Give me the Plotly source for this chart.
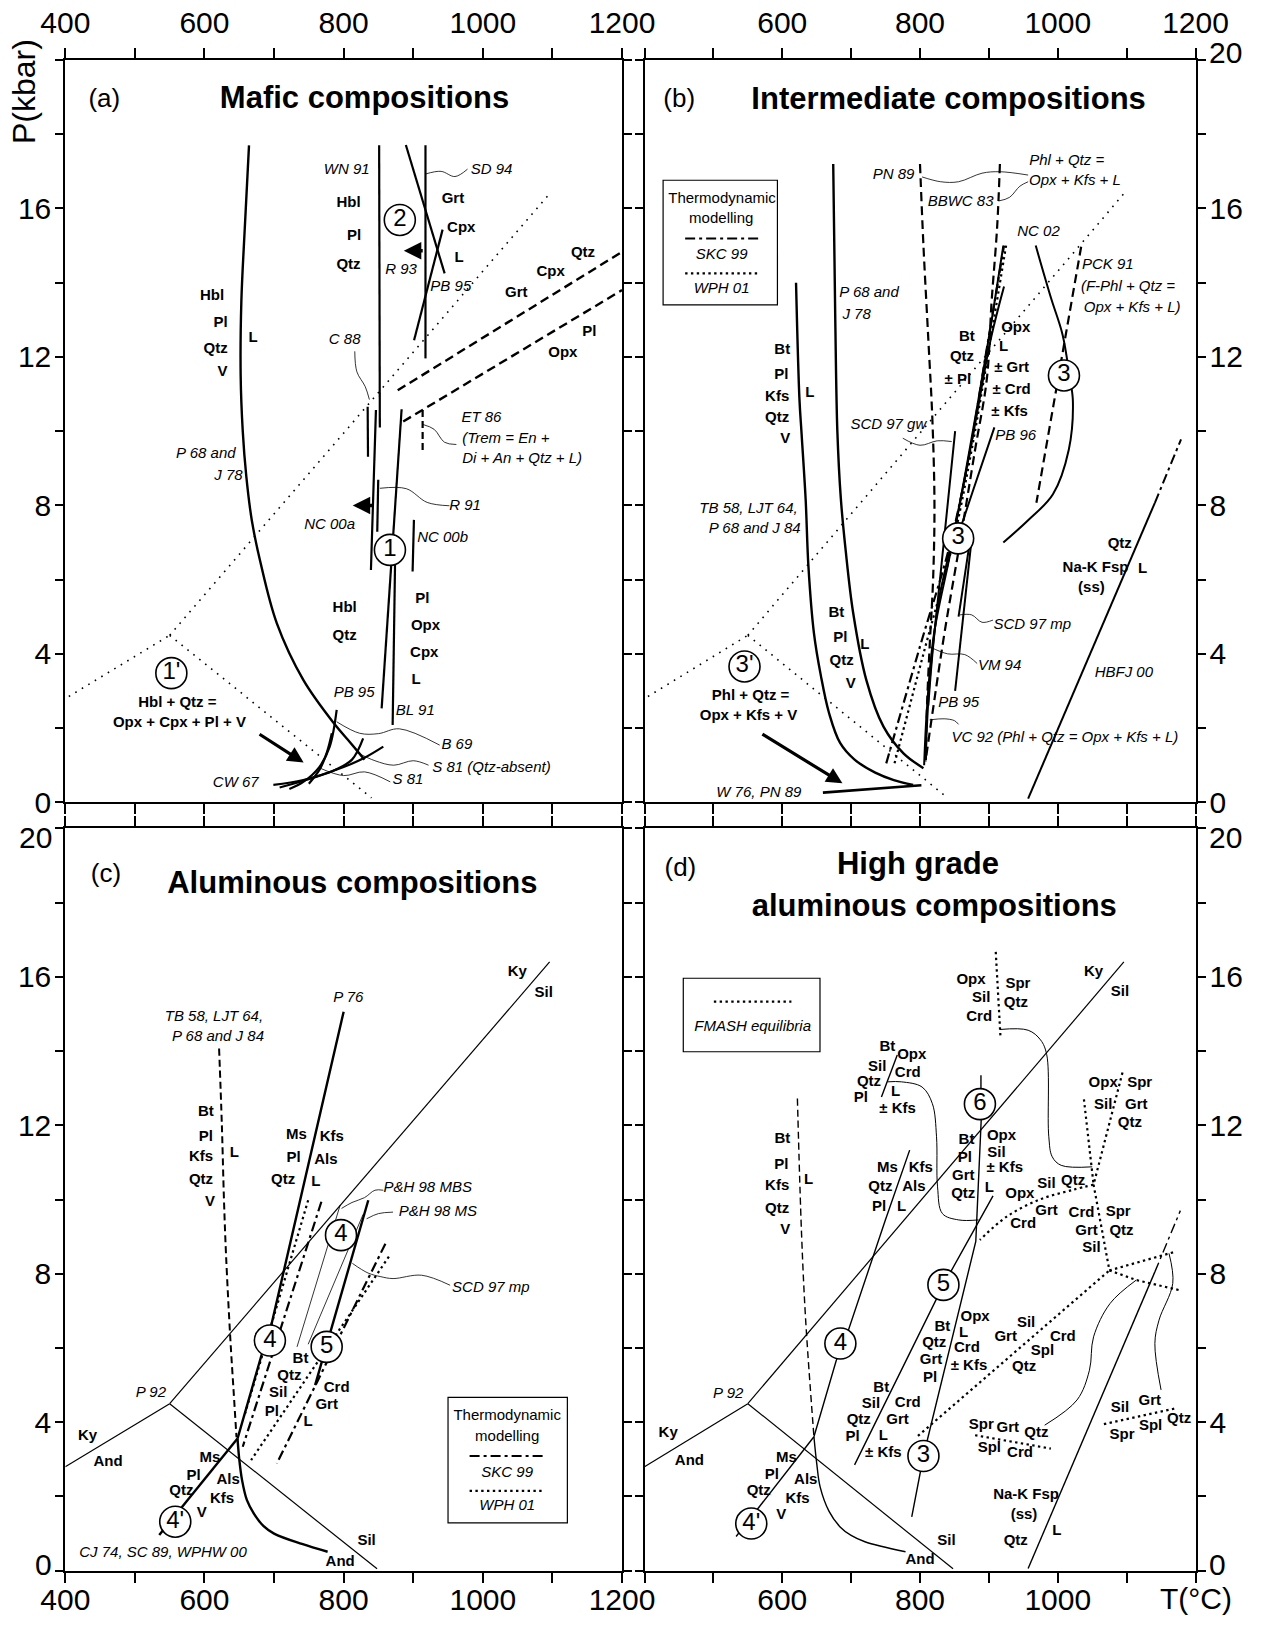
import plotly.graph_objects as go

# ---------------- axis ticks ----------------
T_TICKS = [400, 500, 600, 700, 800, 900, 1000, 1100, 1200]
P_TICKS = [0, 2, 4, 6, 8, 10, 12, 14, 16, 18, 20]
TOP_LABELS_A = ["400", "", "600", "", "800", "", "1000", "", "1200"]
TOP_LABELS_B = ["", "", "600", "", "800", "", "1000", "", "1200"]
BOT_LABELS_C = ["400", "", "600", "", "800", "", "1000", "", "1200"]
BOT_LABELS_D = ["", "", "600", "", "800", "", "1000", "", ""]
TOP_ROW_P_LABELS = ["0", "", "4", "", "8", "", "12", "", "16", "", ""]
BOT_ROW_P_LABELS = ["", "", "4", "", "8", "", "12", "", "16", "", ""]
TOP_P_LABEL = "20"
ZERO_P_LABEL = "0"
T_AXIS_TITLE = "T(°C)"
P_AXIS_TITLE = "P(kbar)"

# ---------------- aluminosilicate triple point lines (T degC, P kbar) ----------------
ALS_KY_AND = [(400, 2.8), (550, 4.5)]
ALS_AND_SIL = [(550, 4.5), (848, 0.05)]
ALS_KY_SIL = [(550, 4.5), (1096, 16.4)]
DOT_KY_AND = [(405, 2.85), (550, 4.5)]
DOT_AND_SIL = [(550, 4.5), (840, 0.12)]
DOT_KY_SIL = [(550, 4.5), (1096, 16.4)]

# ---------------- panel (a) mafic ----------------
A_P68 = [(664, 17.7), (658, 15.5), (653, 13.5), (652, 11.5), (655, 10.0), (660, 8.8), (668, 7.6),
         (680, 6.5), (704, 4.82), (742, 3.3), (786, 2.13), (810, 1.6), (830, 1.15)]
A_WN91 = [(851, 17.7), (852, 10.1)]
A_R93 = [(917.6, 17.7), (917.6, 11.96)]
A_SD94 = [(889.4, 17.71), (945.1, 14.25)]
A_PB95_HI = [(942.2, 15.43), (901.2, 12.45)]
A_DASH1 = [(877.7, 11.1), (1200, 14.83)]
A_DASH2 = [(885.6, 10.26), (1200, 13.8)]
A_C88 = [(834.5, 10.66), (835, 9.31)]
A_NC00A = [(846.4, 10.57), (839.2, 6.26)]
A_R91 = [(849.7, 8.69), (848.3, 7.29)]
A_PB95_LO = [(883.3, 10.59), (854.6, 2.53)]
A_BL91 = [(874, 6.6), (870.4, 2.08)]
A_NC00B = [(901, 7.61), (899.1, 6.22)]
A_ET86 = [(913.5, 10.57), (913.5, 9.4)]
A_LOW1 = [(699, 0.47), (742, 0.6), (800, 0.95), (830, 1.2), (857, 1.5)]
A_LOW2 = [(708, 0.4), (742, 0.58), (785, 0.85), (812, 1.15), (828, 1.72)]
A_LOW3 = [(722, 0.36), (742, 0.55), (765, 0.95), (780, 1.5), (790, 2.49)]
A_LOW4 = [(750, 0.5), (766, 0.9), (776, 1.35), (783, 1.86)]
A_LEAD_SD94 = [(918, 16.93), (940, 17.0), (960, 16.86), (978, 17.06)]
A_LEAD_C88 = [(816, 12.15), (819, 11.6), (831, 11.2), (837, 10.85)]
A_LEAD_ET86 = [(914, 10.18), (930, 10.05), (945, 9.7), (962, 9.64)]
A_LEAD_R91 = [(852, 8.46), (890, 8.45), (920, 8.08), (952, 7.99)]
A_LEAD_B69 = [(790, 2.17), (823, 1.86), (850, 1.85), (880, 1.98), (938, 1.54)]
A_LEAD_S81Q = [(818, 1.35), (845, 1.12), (872, 1.0), (900, 1.12), (922, 1.0)]
A_LEAD_S81 = [(766, 0.92), (800, 0.72), (830, 0.82), (867, 0.55)]
A_ARROWS = [((915.8, 14.86), (886.5, 14.86), 3.5), ((843, 8.0), (813, 8.0), 3.5),
            ((677, 1.86), (742.5, 1.07), 3.2)]
A_BOLD = [("Hbl", 807, 16.15), ("Pl", 815, 15.24), ("Qtz", 807, 14.47),
          ("Grt", 957, 16.24), ("Cpx", 969, 15.46), ("L", 966, 14.65),
          ("Qtz", 1144, 14.8), ("Cpx", 1097.5, 14.29), ("Grt", 1048, 13.71), ("Pl", 1153, 12.67),
          ("Opx", 1115, 12.09),
          ("Hbl", 611, 13.64), ("Pl", 623, 12.92), ("Qtz", 616, 12.2), ("V", 626, 11.6), ("L", 670, 12.49),
          ("Hbl", 801.5, 5.23), ("Qtz", 801.5, 4.47),
          ("Pl", 913, 5.48), ("Opx", 917.6, 4.74), ("Cpx", 915.8, 4.02), ("L", 904, 3.3),
          ("Hbl + Qtz =", 561, 2.67), ("Opx + Cpx + Pl + V", 564, 2.13)]
A_ITAL = [("WN 91", 804.5, 17.03), ("SD 94", 1012.5, 17.03), ("R 93", 882.4, 14.34), ("PB 95", 954, 13.87),
          ("C 88", 801.5, 12.45), ("P 68 and", 602, 9.37), ("J 78", 634.5, 8.79), ("ET 86", 998, 10.36),
          ("(Trem = En +", 1033, 9.79), ("Di + An + Qtz + L)", 1056.5, 9.24), ("R 91", 974.4, 7.98),
          ("NC 00a", 779.8, 7.46), ("NC 00b", 942.2, 7.12), ("PB 95", 815, 2.94), ("BL 91", 903, 2.45),
          ("CW 67", 645, 0.51), ("B 69", 962.7, 1.55), ("S 81 (Qtz-absent)", 1012.5, 0.92), ("S 81", 892.4, 0.6)]
A_CIRCLES = [("2", 880.7, 15.69), ("1", 866.5, 6.8), ("1'", 552.4, 3.48)]

# ---------------- panel (b) intermediate ----------------
B_P68 = [(674, 17.2), (677, 13.0), (680, 10.0), (685, 8.2), (692, 6.8), (703, 5.1), (722, 3.3),
         (747, 2.04), (776, 1.32), (805, 0.92)]
B_TB58 = [(620, 14.0), (625, 10.85), (628, 9.95), (634, 8.15), (638, 6.36), (646, 4.56), (656, 3.42),
          (668, 2.4), (684, 1.6), (705, 1.15), (735, 0.8), (762, 0.6), (790, 0.47)]
B_W76 = [(659, 0.26), (802, 0.46)]
B_PN89 = [(800, 17.2), (805, 15.0), (812, 12.5), (818, 10.3), (821, 8.0), (819, 6.0), (814, 4.2),
          (810, 2.5), (808.5, 1.1)]
B_BBWC83 = [(916, 17.2), (912, 15.5), (904, 13.5), (897, 11.4), (880, 9.5), (858, 7.0), (835, 4.5),
            (808, 1.1)]
B_SKC99 = [(751, 1.05), (800, 4.2), (843, 6.9), (870, 9.2), (895, 12.0), (922, 15.0)]
B_WPH01 = [(763, 1.05), (805, 4.0), (848, 7.0), (875, 9.5), (900, 12.2), (925, 15.0)]
B_VC92 = [(806, 1.0), (810, 2.5), (820, 4.5), (845, 6.8), (872, 9.5), (898, 12.3), (921, 15.0)]
B_VM94 = [(808, 1.2), (815, 3.5), (828, 5.5), (852, 7.5), (880, 10.2), (903, 12.5), (922, 13.9)]
B_PB96 = [(908, 10.1), (877, 8.4), (850, 6.9)]
B_SCD97GW = [(851, 10.0), (840, 8.0), (829, 6.0), (818, 4.0), (812, 2.6)]
B_SCD97MP = [(873, 7.1), (856, 5.0)]
B_PB95 = [(875, 7.1), (851, 3.0)]
B_NC02 = [(968, 15.0), (990, 13.6), (1007, 12.6), (1017, 11.5), (1022, 10.8), (1016, 9.5), (993, 8.3),
          (957, 7.6), (921, 7.0)]
B_PCK91 = [(1034, 14.97), (969, 8.07)]
B_HBFJ = [(957, 0.1), (1141, 8.07)]
B_HBFJ_EXT = [(1141, 8.07), (1179, 9.78)]
B_LEAD_PN89 = [(803, 16.85), (830, 16.72), (856, 16.72), (890, 16.95), (916, 16.99), (957, 16.9)]
B_LEAD_BBWC = [(914, 16.2), (930, 16.3), (945, 16.6), (957, 16.72)]
B_LEAD_GW = [(775, 9.81), (800, 9.62), (825, 9.74), (846, 9.72)]
B_LEAD_MP = [(858, 5.05), (875, 5.05), (890, 4.85), (906, 4.91)]
B_LEAD_VM = [(814, 4.19), (840, 4.0), (865, 3.98), (883, 3.74)]
B_LEAD_VC = [(814, 2.22), (835, 2.25), (850, 2.2), (856, 2.1)]
B_ARROWS = [((569, 1.86), (687.4, 0.51), 3.2)]
B_LEG_BOX = [(427, 13.4), (593, 16.76)]
B_LEG_DASHDOT = [(459, 15.19), (566, 15.19)]
B_LEG_DOT = [(459, 14.25), (566, 14.25)]
B_BOLD = [("Bt", 600, 12.18), ("Pl", 598.5, 11.51), ("Kfs", 592.6, 10.92), ("Qtz", 592.6, 10.36),
          ("V", 604.4, 9.78), ("L", 640, 11.01),
          ("Bt", 678.5, 5.1), ("Pl", 684.4, 4.43), ("L", 720, 4.24), ("Qtz", 686.2, 3.8), ("V", 699.3, 3.17),
          ("Bt", 868, 12.54), ("Qtz", 861, 12.0), ("± Pl", 855, 11.37),
          ("Opx", 939, 12.76), ("L", 921.5, 12.27), ("± Grt", 933, 11.69), ("± Crd", 933, 11.1),
          ("± Kfs", 930, 10.52),
          ("Qtz", 1090, 6.94), ("Na-K Fsp", 1054.8, 6.31), ("(ss)", 1048.9, 5.77), ("L", 1123, 6.27),
          ("Phl + Qtz =", 554, 2.85), ("Opx + Kfs + V", 551, 2.31)]
B_ITAL = [("PN 89", 761.5, 16.9), ("BBWC 83", 859, 16.18), ("Phl + Qtz =", 1013, 17.26),
          ("Opx + Kfs + L", 1025, 16.72), ("NC 02", 972, 15.37), ("PCK 91", 1072.6, 14.47),
          ("(F-Phl + Qtz =", 1102, 13.87), ("Opx + Kfs + L)", 1108, 13.3), ("P 68 and", 726, 13.71),
          ("J 78", 708, 13.12), ("SCD 97 gw", 754, 10.17), ("PB 96", 939, 9.86),
          ("TB 58, LJT 64,", 551, 7.89), ("P 68 and J 84", 560, 7.35), ("SCD 97 mp", 963, 4.78),
          ("VM 94", 915.6, 3.66), ("PB 95", 856.3, 2.67), ("VC 92 (Phl + Qtz = Opx + Kfs + L)", 1010.4, 1.73),
          ("HBFJ 00", 1096, 3.48), ("W 76, PN 89", 566, 0.24),
          ("SKC 99", 512, 14.74), ("WPH 01", 512, 13.82)]
B_REG = [("Thermodynamic", 512.6, 16.24), ("modelling", 511.4, 15.7)]
B_CIRCLES = [("3", 1009, 11.5), ("3", 855.4, 7.11), ("3'", 545.2, 3.66)]

# ---------------- panel (c) aluminous ----------------
C_TB58_DASH = [(621, 14.07), (625, 12.0), (628, 10.0), (631, 8.5), (637, 6.3), (642, 4.8), (646, 3.6)]
C_MELT = [(647.5, 3.56), (650, 3.0), (654, 2.44), (661, 1.9), (671, 1.54), (685, 1.2), (700, 1.0),
          (740, 0.72), (777, 0.51)]
C_4P = [(535, 0.96), (647.5, 3.56)]
C_P76 = [(647.5, 3.56), (682, 5.81), (694, 6.45), (800, 15.06)]
C_WPH_L = [(749, 9.98), (657, 4.15)]
C_SKC_L = [(768, 9.94), (655, 3.34)]
C_PH98MBS = [(795, 9.85), (733, 6.03)]
C_PH98MS = [(828, 9.6), (749, 6.1)]
C_SCD97MP = [(835.4, 9.98), (759, 5.0)]
C_SKC_R = [(860, 8.81), (704, 2.89)]
C_WPH_R = [(865, 8.46), (667, 2.98)]
C_LEAD_MBS = [(797, 9.76), (812, 9.92), (830, 10.05), (845, 10.25), (857, 10.25)]
C_LEAD_MS = [(833, 9.48), (850, 9.62), (871, 9.66)]
C_LEAD_SCD = [(812.5, 8.28), (835, 8.02), (853.5, 7.92), (871, 7.87), (912, 7.96), (953, 7.69)]
C_LEG_BOX = [(950, 1.29), (1121.5, 4.67)]
C_LEG_DASHDOT = [(981, 3.09), (1090, 3.09)]
C_LEG_DOT = [(981, 2.15), (1088, 2.15)]
C_BOLD = [("Bt", 602, 12.36), ("Pl", 602, 11.69), ("Kfs", 595, 11.13), ("Qtz", 595, 10.52), ("V", 608, 9.93),
          ("L", 643, 11.24),
          ("Ms", 732, 11.73), ("Kfs", 783, 11.69), ("Pl", 728, 11.1), ("Als", 774.5, 11.06), ("Qtz", 713, 10.52),
          ("L", 760, 10.47),
          ("Ky", 1049.5, 16.13), ("Sil", 1087.5, 15.55), ("Ky", 432, 3.63), ("And", 461.4, 2.91),
          ("Sil", 833, 0.78), ("And", 795, 0.24),
          ("Bt", 738, 5.69), ("Qtz", 722, 5.23), ("Sil", 706, 4.78), ("Pl", 697, 4.28), ("Crd", 790, 4.91),
          ("Grt", 775.6, 4.46), ("L", 749, 4.0),
          ("Ms", 607.7, 3.03), ("Pl", 584.3, 2.55), ("Qtz", 566.8, 2.13), ("Als", 634, 2.44), ("Kfs", 625.3, 1.92),
          ("V", 596, 1.54)]
C_ITAL = [("TB 58, LJT 64,", 613.6, 14.92), ("P 68 and J 84", 619.4, 14.38), ("P 76", 806.7, 15.42),
          ("P&H 98 MBS", 920.8, 10.29), ("P&H 98 MS", 935.4, 9.66), ("SCD 97 mp", 1011.5, 7.6),
          ("P 92", 523, 4.78), ("CJ 74, SC 89, WPHW 00", 540.4, 0.47), ("SKC 99", 1035, 2.62),
          ("WPH 01", 1035, 1.74)]
C_REG = [("Thermodynamic", 1035, 4.15), ("modelling", 1035, 3.59)]
C_CIRCLES = [("4", 796.2, 9.04), ("4", 694, 6.2), ("5", 775.6, 6.03), ("4'", 558, 1.32)]

# ---------------- panel (d) high grade aluminous ----------------
D_TB58_DASH = [(622, 12.72), (628, 9.08), (634, 6.75), (646, 3.61)]
D_MELT = [(646, 3.61), (650, 2.9), (655, 2.26), (668, 1.6), (684, 1.18), (700, 0.95), (720, 0.78), (779, 0.51)]
D_4P = [(533, 0.92), (646, 3.61)]
D_L4 = [(646, 3.61), (678.5, 5.67), (696, 6.48), (749.6, 9.44), (785, 11.33)]
D_L5 = [(705, 2.85), (834, 7.7), (906, 10.1)]
D_L3 = [(788, 1.45), (805, 3.09), (881, 8.87), (889, 12.2)]
D_L6TOP = [(888.5, 13.0), (888.5, 13.35)]
D_BTSIL = [(744, 12.76), (767, 13.89)]
D_CURVE1 = [(753, 13.17), (773, 13.17), (803, 13.03), (818, 12.58), (824, 11.69), (825.5, 10.34),
            (832.6, 9.62), (856, 9.45), (885, 9.45)]
D_OPXSPR_DOT = [(910, 16.67), (917, 14.33)]
D_CURVE2 = [(916, 14.58), (957, 14.56), (975, 14.3), (984, 13.9), (987, 11.69), (992, 11.15),
            (1005, 10.92), (1050, 10.88)]
D_D1 = [(1038, 12.7), (1052, 10.4)]
D_D2 = [(1094, 13.42), (1052, 10.4)]
D_D3 = [(1052, 10.4), (1075, 8.09)]
D_D4 = [(1052, 10.4), (1022, 10.26), (974, 10.0), (926, 9.54), (887, 8.91)]
D_LONGDOT = [(797, 3.63), (1075, 8.09)]
D_DR1 = [(1075, 8.09), (1170, 8.59)]
D_DR2 = [(1075, 8.09), (1114, 7.83), (1176, 7.56)]
D_NAK = [(957, 0.06), (1141, 8.05)]
D_NAK_EXT = [(1141, 8.05), (1178, 9.7)]
D_R1 = [(1114, 7.83), (1076, 7.2), (1052, 6.3), (1046, 5.4), (1028, 4.6), (981, 3.92)]
D_R2 = [(1161.5, 8.55), (1167, 7.74), (1147, 6.75), (1141, 6.12), (1150, 4.87)]
D_SPR_DOT = [(880, 3.65), (990, 3.29)]
D_SIL_DOT = [(1067, 3.95), (1173, 4.38)]
D_LEG_BOX = [(456.3, 13.98), (654.8, 15.96)]
D_LEG_DOT = [(500.7, 15.33), (613.3, 15.33)]
D_BOLD = [("Bt", 600.3, 11.61), ("Pl", 598.5, 10.92), ("Kfs", 592.6, 10.36), ("Qtz", 592.6, 9.75),
          ("V", 604.4, 9.17), ("L", 638.2, 10.52),
          ("Ms", 752.6, 10.83), ("Kfs", 801.2, 10.83), ("Qtz", 742.5, 10.34), ("Als", 791.1, 10.34),
          ("Pl", 740.7, 9.8), ("L", 773.3, 9.8),
          ("Bt", 752.6, 14.11), ("Opx", 788.1, 13.89), ("Sil", 737.8, 13.57), ("Crd", 782.2, 13.39),
          ("Qtz", 726, 13.17), ("L", 764.4, 12.9), ("Pl", 714.1, 12.72), ("± Kfs", 767.4, 12.42),
          ("Opx", 874.1, 15.91), ("Sil", 888.9, 15.42), ("Crd", 885.9, 14.92), ("Spr", 942.2, 15.79),
          ("Qtz", 939.3, 15.3),
          ("Ky", 1051.9, 16.13), ("Sil", 1090.4, 15.57),
          ("Opx", 1066, 13.13), ("Spr", 1119, 13.13), ("Sil", 1066, 12.55), ("Grt", 1114, 12.55),
          ("Qtz", 1104.7, 12.06),
          ("Bt", 867.5, 11.6), ("Pl", 865, 11.1), ("Grt", 862.8, 10.62), ("Qtz", 862.8, 10.13),
          ("Opx", 918.4, 11.71), ("Sil", 911, 11.25), ("± Kfs", 923, 10.84), ("L", 900.5, 10.3),
          ("Opx", 945, 10.15), ("Sil", 983.7, 10.4), ("Qtz", 1022.4, 10.5), ("Grt", 983.7, 9.68),
          ("Crd", 949.8, 9.32),
          ("Crd", 1034.5, 9.63), ("Spr", 1087.7, 9.65), ("Grt", 1041.8, 9.14), ("Qtz", 1092.6, 9.14),
          ("Sil", 1049, 8.7),
          ("Opx", 880, 6.84), ("L", 863.4, 6.39), ("Crd", 868.1, 5.99), ("± Kfs", 871.1, 5.52),
          ("Bt", 832.6, 6.57), ("Qtz", 820.7, 6.12), ("Grt", 816, 5.66), ("Pl", 814.8, 5.18),
          ("Sil", 954, 6.66), ("Grt", 924.4, 6.3), ("Crd", 1007.4, 6.3), ("Spl", 977.8, 5.9), ("Qtz", 951.1, 5.49),
          ("Bt", 743.7, 4.91), ("Sil", 728.9, 4.49), ("Qtz", 711.1, 4.06), ("Pl", 702.2, 3.59),
          ("Crd", 782.2, 4.51), ("Grt", 767.4, 4.06), ("L", 746.7, 3.61), ("± Kfs", 746.7, 3.16),
          ("Spr", 888.9, 3.92), ("Grt", 927.4, 3.83), ("Qtz", 968.9, 3.7), ("Spl", 900.7, 3.29),
          ("Crd", 945.2, 3.16),
          ("Sil", 1090.4, 4.37), ("Grt", 1133.6, 4.56), ("Qtz", 1176.3, 4.08), ("Spr", 1093.3, 3.65),
          ("Spl", 1134.8, 3.88),
          ("Ky", 434.4, 3.7), ("And", 465.2, 2.94), ("Ms", 606.2, 3.03), ("Pl", 584.9, 2.58),
          ("Qtz", 565.9, 2.13), ("Als", 634.1, 2.44), ("Kfs", 622.2, 1.92), ("V", 598.5, 1.5),
          ("Na-K Fsp", 954, 2.04), ("(ss)", 951, 1.5), ("Qtz", 939, 0.78), ("L", 998.5, 1.05),
          ("Sil", 838.5, 0.78), ("And", 800, 0.29)]
D_ITAL = [("P 92", 521.5, 4.76), ("FMASH equilibria", 557, 14.65)]
D_CIRCLES = [("6", 887, 12.57), ("5", 834, 7.7), ("4", 684.4, 6.12), ("3", 805, 3.09), ("4'", 555, 1.27)]

PANEL_LETTERS = [("(a)", 456, 18.92), ("(b)", 450.4, 18.92), ("(c)", 458.5, 18.74), ("(d)", 452.1, 18.88)]
PANEL_TITLES = [("Mafic compositions", 830, 18.92), ("Intermediate compositions", 841.5, 18.88),
                ("Aluminous compositions", 812.5, 18.47), ("High grade", 797, 18.97),
                ("aluminous compositions", 820.7, 17.84)]
TITLE_PANEL = ["a", "b", "c", "d", "d"]

# ---------------- figure ----------------
W, H = 1267, 1630
FONT = "Liberation Sans, Arial, Helvetica, sans-serif"
AX = {"a": ("x", "y"), "b": ("x2", "y2"), "c": ("x3", "y3"), "d": ("x4", "y4")}
THICK, MED, THIN, HAIR = 2.4, 1.4, 1.0, 0.8
DASH = "9px,5px"
DASH_S = "7px,4px"
DOT_SPARSE = "1.6px,6px"
DOT_DENSE = "2.4px,3.4px"
DASHDOT = "10px,4px,3px,4px"

fig = go.Figure()


def line(panel, pts, width, dash="solid", smooth=False):
    xa, ya = AX[panel]
    fig.add_trace(go.Scatter(
        x=[p[0] for p in pts], y=[p[1] for p in pts], mode="lines", xaxis=xa, yaxis=ya,
        line=dict(color="black", width=width, dash=dash,
                  shape="spline" if smooth else "linear", smoothing=1.0),
        hoverinfo="skip", showlegend=False))


def texts(panel, items, size, weight="normal", style="normal"):
    xa, ya = AX[panel]
    fig.add_trace(go.Scatter(
        x=[i[1] for i in items], y=[i[2] for i in items], text=[i[0] for i in items],
        mode="text", textposition="middle center", xaxis=xa, yaxis=ya, cliponaxis=False,
        textfont=dict(family=FONT, size=size, color="black", weight=weight, style=style),
        hoverinfo="skip", showlegend=False))


def circles(panel, items):
    xa, ya = AX[panel]
    fig.add_trace(go.Scatter(
        x=[i[1] for i in items], y=[i[2] for i in items], text=[i[0] for i in items],
        mode="markers+text", textposition="middle center", xaxis=xa, yaxis=ya, cliponaxis=False,
        marker=dict(symbol="circle", size=31, color="white", line=dict(color="black", width=1.6)),
        textfont=dict(family=FONT, size=24, color="black"),
        hoverinfo="skip", showlegend=False))


def arrows(panel, items):
    xa, ya = AX[panel]
    for tail, head, w in items:
        fig.add_annotation(x=head[0], y=head[1], ax=tail[0], ay=tail[1], xref=xa, yref=ya,
                           axref=xa, ayref=ya, showarrow=True, arrowhead=2, arrowsize=1.0,
                           arrowwidth=w, arrowcolor="black", text="")


def box(panel, corners):
    xa, ya = AX[panel]
    fig.add_shape(type="rect", xref=xa, yref=ya, x0=corners[0][0], y0=corners[0][1],
                  x1=corners[1][0], y1=corners[1][1], line=dict(color="black", width=1.2),
                  fillcolor="white", layer="below")


# panel a
for p in ("a", "b"):
    line(p, DOT_KY_AND, 1.6, DOT_SPARSE)
    line(p, DOT_AND_SIL, 1.6, DOT_SPARSE)
    line(p, DOT_KY_SIL, 1.6, DOT_SPARSE)
line("a", A_P68, THICK, smooth=True)
for pts in (A_WN91, A_R93, A_SD94, A_PB95_HI, A_C88, A_NC00A, A_R91, A_PB95_LO, A_BL91, A_NC00B):
    line("a", pts, 2.2)
line("a", A_DASH1, 2.4, DASH)
line("a", A_DASH2, 2.4, DASH)
line("a", A_ET86, 2.2, DASH_S)
for pts in (A_LOW1, A_LOW2, A_LOW3, A_LOW4):
    line("a", pts, 2.2, smooth=True)
for pts in (A_LEAD_SD94, A_LEAD_C88, A_LEAD_ET86, A_LEAD_R91, A_LEAD_B69, A_LEAD_S81Q, A_LEAD_S81):
    line("a", pts, HAIR, smooth=True)
arrows("a", A_ARROWS)
circles("a", A_CIRCLES)
texts("a", A_BOLD, 15, weight="bold")
texts("a", A_ITAL, 15, style="italic")

# panel b
box("b", B_LEG_BOX)
line("b", B_LEG_DASHDOT, 2.2, DASHDOT)
line("b", B_LEG_DOT, 2.2, DOT_DENSE)
line("b", B_TB58, THICK, smooth=True)
line("b", B_P68, THICK, smooth=True)
line("b", B_W76, 2.6)
line("b", B_PN89, 2.2, DASH, smooth=True)
line("b", B_BBWC83, 2.2, DASH, smooth=True)
line("b", B_SKC99, 2.2, DASHDOT, smooth=True)
line("b", B_WPH01, 2.2, DOT_DENSE, smooth=True)
for pts in (B_VC92, B_VM94, B_PB96, B_SCD97GW):
    line("b", pts, 2.0, smooth=True)
line("b", B_SCD97MP, 2.0)
line("b", B_PB95, 2.0)
line("b", B_NC02, 2.0, smooth=True)
line("b", B_PCK91, 2.2, DASH)
line("b", B_HBFJ, 2.0)
line("b", B_HBFJ_EXT, 2.0, DASHDOT)
for pts in (B_LEAD_PN89, B_LEAD_BBWC, B_LEAD_GW, B_LEAD_MP, B_LEAD_VM, B_LEAD_VC):
    line("b", pts, HAIR, smooth=True)
arrows("b", B_ARROWS)
circles("b", B_CIRCLES)
texts("b", B_BOLD, 15, weight="bold")
texts("b", B_ITAL, 15, style="italic")
texts("b", B_REG, 15)

# panel c
box("c", C_LEG_BOX)
line("c", C_LEG_DASHDOT, 2.2, DASHDOT)
line("c", C_LEG_DOT, 2.2, DOT_DENSE)
line("c", ALS_KY_AND, 1.2)
line("c", ALS_AND_SIL, 1.2)
line("c", ALS_KY_SIL, 1.2)
line("c", C_TB58_DASH, 2.0, DASH_S, smooth=True)
line("c", C_MELT, THICK, smooth=True)
line("c", C_4P, THICK)
line("c", C_P76, THICK)
line("c", C_WPH_L, 2.2, DOT_DENSE)
line("c", C_SKC_L, 2.2, DASHDOT)
line("c", C_PH98MBS, HAIR)
line("c", C_PH98MS, HAIR)
line("c", C_SCD97MP, THICK)
line("c", C_SKC_R, 2.2, DASHDOT)
line("c", C_WPH_R, 2.2, DOT_DENSE)
for pts in (C_LEAD_MBS, C_LEAD_MS, C_LEAD_SCD):
    line("c", pts, HAIR, smooth=True)
circles("c", C_CIRCLES)
texts("c", C_BOLD, 15, weight="bold")
texts("c", C_ITAL, 15, style="italic")
texts("c", C_REG, 15)

# panel d
box("d", D_LEG_BOX)
line("d", D_LEG_DOT, 2.2, DOT_DENSE)
line("d", ALS_KY_AND, 1.2)
line("d", ALS_AND_SIL, 1.2)
line("d", ALS_KY_SIL, 1.2)
line("d", D_TB58_DASH, 1.4, DASH_S, smooth=True)
line("d", D_MELT, MED, smooth=True)
line("d", D_4P, MED)
line("d", D_L4, MED)
line("d", D_L5, MED)
line("d", D_L3, MED)
line("d", D_L6TOP, MED)
line("d", D_BTSIL, MED)
line("d", D_CURVE1, THIN, smooth=True)
line("d", D_CURVE2, THIN, smooth=True)
for pts in (D_OPXSPR_DOT, D_D1, D_D2, D_D3, D_LONGDOT, D_DR1, D_DR2, D_SPR_DOT, D_SIL_DOT):
    line("d", pts, 2.2, DOT_DENSE)
line("d", D_D4, 2.2, DOT_DENSE, smooth=True)
line("d", D_NAK, MED)
line("d", D_NAK_EXT, MED, DASHDOT)
line("d", D_R1, THIN, smooth=True)
line("d", D_R2, THIN, smooth=True)
circles("d", D_CIRCLES)
texts("d", D_BOLD, 15, weight="bold")
texts("d", D_ITAL, 15, style="italic")

# panel letters and titles
for (txt, t, p), pan in zip(PANEL_LETTERS, "abcd"):
    texts(pan, [(txt, t, p)], 26)
for (txt, t, p), pan in zip(PANEL_TITLES, TITLE_PANEL):
    texts(pan, [(txt, t, p)], 31, weight="bold")

# axes (pixel geometry of the four frames)
XA_PX = (65.3, 622.0)
XB_PX = (644.5, 1195.5)
YTOP_PX = (60.0, 802.3)
YBOT_PX = (828.3, 1570.7)
XA = [XA_PX[0] / W, XA_PX[1] / W]
XB = [XB_PX[0] / W, XB_PX[1] / W]
YTOP = [1 - YTOP_PX[1] / H, 1 - YTOP_PX[0] / H]
YBOT = [1 - YBOT_PX[1] / H, 1 - YBOT_PX[0] / H]
TICK_SIZE = 30
YLEN = 8
YSTANDOFF = -2
tickfont = dict(family=FONT, size=TICK_SIZE, color="black")


def xaxis(domain, anchor, side, labels, standoff):
    return dict(domain=domain, anchor=anchor, side=side, range=[400, 1200], showgrid=False,
                zeroline=False, showline=True, linecolor="black", linewidth=2, mirror="ticks",
                ticks="outside", ticklen=10, tickwidth=1.5, tickcolor="black",
                tickvals=T_TICKS, ticktext=labels, tickfont=tickfont, fixedrange=True,
                ticklabelstandoff=standoff)


def yaxis(domain, anchor, side, labels):
    return dict(domain=domain, anchor=anchor, side=side, range=[0, 20], showgrid=False,
                zeroline=False, showline=True, linecolor="black", linewidth=2, mirror="ticks",
                ticks="outside", ticklen=YLEN, tickwidth=1.5, tickcolor="black",
                tickvals=P_TICKS, ticktext=labels, tickfont=tickfont, fixedrange=True,
                ticklabelstandoff=YSTANDOFF)


fig.update_layout(
    width=W, height=H, margin=dict(l=0, r=0, t=0, b=0, pad=0, autoexpand=False),
    paper_bgcolor="white", plot_bgcolor="white", showlegend=False,
    xaxis=xaxis(XA, "y", "top", TOP_LABELS_A, 3),
    yaxis=yaxis(YTOP, "x", "left", TOP_ROW_P_LABELS),
    xaxis2=xaxis(XB, "y2", "top", TOP_LABELS_B, 3),
    yaxis2=yaxis(YTOP, "x2", "right", TOP_ROW_P_LABELS),
    xaxis3=xaxis(XA, "y3", "bottom", BOT_LABELS_C, -9),
    yaxis3=yaxis(YBOT, "x3", "left", BOT_ROW_P_LABELS),
    xaxis4=xaxis(XB, "y4", "bottom", BOT_LABELS_D, -9),
    yaxis4=yaxis(YBOT, "x4", "right", BOT_ROW_P_LABELS),
)

# corner P labels nudged off the corner ticks, as in the original figure
GAP = 11
corner_labels = [
    (TOP_P_LABEL, XA_PX[0] - GAP, YBOT_PX[0] + 9, "right"),
    (TOP_P_LABEL, XB_PX[1] + GAP, YBOT_PX[0] + 9, "left"),
    (TOP_P_LABEL, XB_PX[1] + GAP, YTOP_PX[0] - 8, "left"),
    (ZERO_P_LABEL, XA_PX[0] - GAP, YBOT_PX[1] - 6, "right"),
    (ZERO_P_LABEL, XB_PX[1] + GAP, YBOT_PX[1] - 6, "left"),
]
for txt, xpx, ypx, anchor in corner_labels:
    fig.add_annotation(text=txt, xref="paper", yref="paper", x=xpx / W, y=1 - ypx / H,
                       showarrow=False, xanchor=anchor, yanchor="middle",
                       font=dict(family=FONT, size=TICK_SIZE, color="black"))

# axis titles
fig.add_annotation(text=T_AXIS_TITLE, xref="paper", yref="paper", x=XB_PX[1] / W, y=1 - 1598 / H,
                   showarrow=False, xanchor="center", yanchor="middle",
                   font=dict(family=FONT, size=TICK_SIZE, color="black"))
fig.add_annotation(text=P_AXIS_TITLE, xref="paper", yref="paper", x=24 / W, y=1 - 92 / H,
                   textangle=-90, showarrow=False, font=dict(family=FONT, size=32, color="black"),
                   xanchor="center", yanchor="middle")

fig.write_html("out.html")
